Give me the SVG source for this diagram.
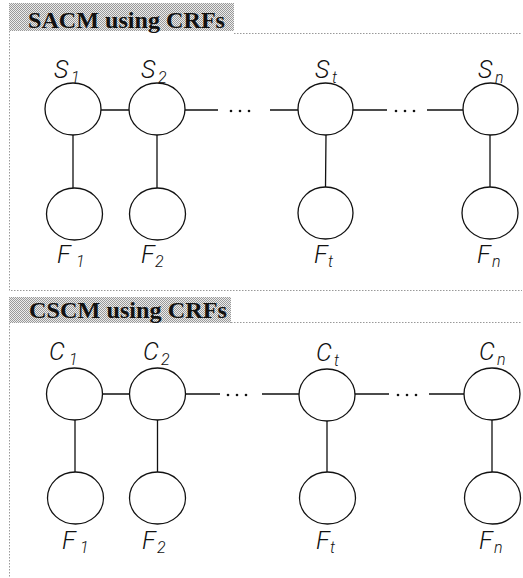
<svg xmlns="http://www.w3.org/2000/svg" width="523" height="578" viewBox="0 0 523 578">
<defs>
<pattern id="dither" width="2" height="2" patternUnits="userSpaceOnUse">
<rect width="2" height="2" fill="#ececec"/>
<rect width="1" height="1" fill="#999"/>
<rect x="1" y="1" width="1" height="1" fill="#999"/>
</pattern>
</defs>
<style>
.panel{fill:none;stroke:#999;stroke-width:1;stroke-dasharray:1.5 1.5}
.title{font-family:"Liberation Serif","Times New Roman",serif;font-weight:bold;font-size:24px;fill:#111}
.node{fill:#fff;stroke:#111;stroke-width:1.3}
.edge{stroke:#111;stroke-width:1.3;fill:none}
.dot{fill:#111}
.lbl{font-family:Roboto,"Liberation Sans",Arial,sans-serif;font-weight:300;font-style:italic;font-size:25px;fill:#111}
.sub{font-family:Roboto,"Liberation Sans",Arial,sans-serif;font-weight:300;font-style:italic;font-size:16px;fill:#111}
</style>
<rect width="523" height="578" fill="#fff"/>

<!-- Panel 1 -->
<g id="panel-sacm">
<rect x="9" y="3" width="225" height="28" fill="url(#dither)"/>
<text class="title" x="28" y="28" textLength="197" lengthAdjust="spacingAndGlyphs">SACM using CRFs</text>
<path class="panel" d="M9.5 31 V290.5 H522 M234 33.5 H522"/>
</g>

<!-- Panel 2 -->
<g id="panel-cscm">
<rect x="9" y="297" width="222" height="26" fill="url(#dither)"/>
<text class="title" x="29" y="318" textLength="198" lengthAdjust="spacingAndGlyphs">CSCM using CRFs</text>
<path class="panel" d="M9.5 323 V578 M231 322.5 H522"/>
</g>

<!-- Connectors -->
<g id="connectors">
<path class="edge" d="M101 110 H129 M185 110 H218 M270 110 H298 M353 110 H387 M427 110 H463"/>
<path class="edge" d="M73 135 V188 M157 135 V188 M326 135 L325.5 187 M490 135 V188"/>
<circle class="dot" cx="231" cy="111" r="1.3"/>
<circle class="dot" cx="240" cy="111" r="1.3"/>
<circle class="dot" cx="249" cy="111" r="1.3"/>
<circle class="dot" cx="396" cy="111" r="1.3"/>
<circle class="dot" cx="405" cy="111" r="1.3"/>
<circle class="dot" cx="414" cy="111" r="1.3"/>
<path class="edge" d="M102 394 H130 M185 394 H220 M262 394 H299 M355 394 H389 M429 394 H464"/>
<path class="edge" d="M75 420 V472 M157.5 420 V472 M327 420 V472 M492 420 V472"/>
<circle class="dot" cx="228" cy="395" r="1.3"/>
<circle class="dot" cx="237" cy="395" r="1.3"/>
<circle class="dot" cx="246" cy="395" r="1.3"/>
<circle class="dot" cx="398" cy="395" r="1.3"/>
<circle class="dot" cx="407" cy="395" r="1.3"/>
<circle class="dot" cx="416" cy="395" r="1.3"/>
</g>

<!-- Panel 1 nodes -->
<g id="S1"><ellipse class="node" cx="73" cy="109" rx="28" ry="26"/><text class="lbl" x="54" y="78">S</text><text class="sub" x="71" y="83">1</text></g>
<g id="S2"><ellipse class="node" cx="157" cy="109" rx="28" ry="26"/><text class="lbl" x="141" y="78">S</text><text class="sub" x="158" y="83">2</text></g>
<g id="St"><ellipse class="node" cx="325.5" cy="109" rx="27.5" ry="26"/><text class="lbl" x="315" y="78">S</text><text class="sub" x="332" y="83">t</text></g>
<g id="Sn"><ellipse class="node" cx="490.5" cy="109" rx="27.5" ry="26"/><text class="lbl" x="478" y="78">S</text><text class="sub" x="495" y="83">n</text></g>
<g id="F1a"><ellipse class="node" cx="74.5" cy="214" rx="28" ry="26"/><text class="lbl" x="57" y="263">F</text><text class="sub" x="76" y="267">1</text></g>
<g id="F2a"><ellipse class="node" cx="157.5" cy="214" rx="28" ry="26"/><text class="lbl" x="141" y="263">F</text><text class="sub" x="155" y="267">2</text></g>
<g id="Fta"><ellipse class="node" cx="325.5" cy="213" rx="27.5" ry="26"/><text class="lbl" x="314" y="263">F</text><text class="sub" x="328" y="267">t</text></g>
<g id="Fna"><ellipse class="node" cx="490" cy="213" rx="28" ry="26"/><text class="lbl" x="477" y="263">F</text><text class="sub" x="492" y="267">n</text></g>

<!-- Panel 2 nodes -->
<g id="C1"><ellipse class="node" cx="74.5" cy="394" rx="28" ry="26"/><text class="lbl" x="49" y="360">C</text><text class="sub" x="69" y="365">1</text></g>
<g id="C2"><ellipse class="node" cx="157.5" cy="394" rx="28" ry="26"/><text class="lbl" x="143" y="360">C</text><text class="sub" x="161" y="365">2</text></g>
<g id="Ct"><ellipse class="node" cx="327" cy="395" rx="28" ry="26"/><text class="lbl" x="316" y="361">C</text><text class="sub" x="334" y="366">t</text></g>
<g id="Cn"><ellipse class="node" cx="492" cy="394" rx="28" ry="26"/><text class="lbl" x="479" y="360">C</text><text class="sub" x="497" y="365">n</text></g>
<g id="F1b"><ellipse class="node" cx="75.5" cy="498" rx="28" ry="26"/><text class="lbl" x="62" y="549">F</text><text class="sub" x="80" y="553">1</text></g>
<g id="F2b"><ellipse class="node" cx="157.5" cy="498" rx="28" ry="26"/><text class="lbl" x="142" y="549">F</text><text class="sub" x="157" y="553">2</text></g>
<g id="Ftb"><ellipse class="node" cx="327.5" cy="498" rx="28" ry="26"/><text class="lbl" x="316" y="549">F</text><text class="sub" x="330" y="553">t</text></g>
<g id="Fnb"><ellipse class="node" cx="492.5" cy="498" rx="28" ry="26"/><text class="lbl" x="479" y="549">F</text><text class="sub" x="494" y="553">n</text></g>
</svg>
